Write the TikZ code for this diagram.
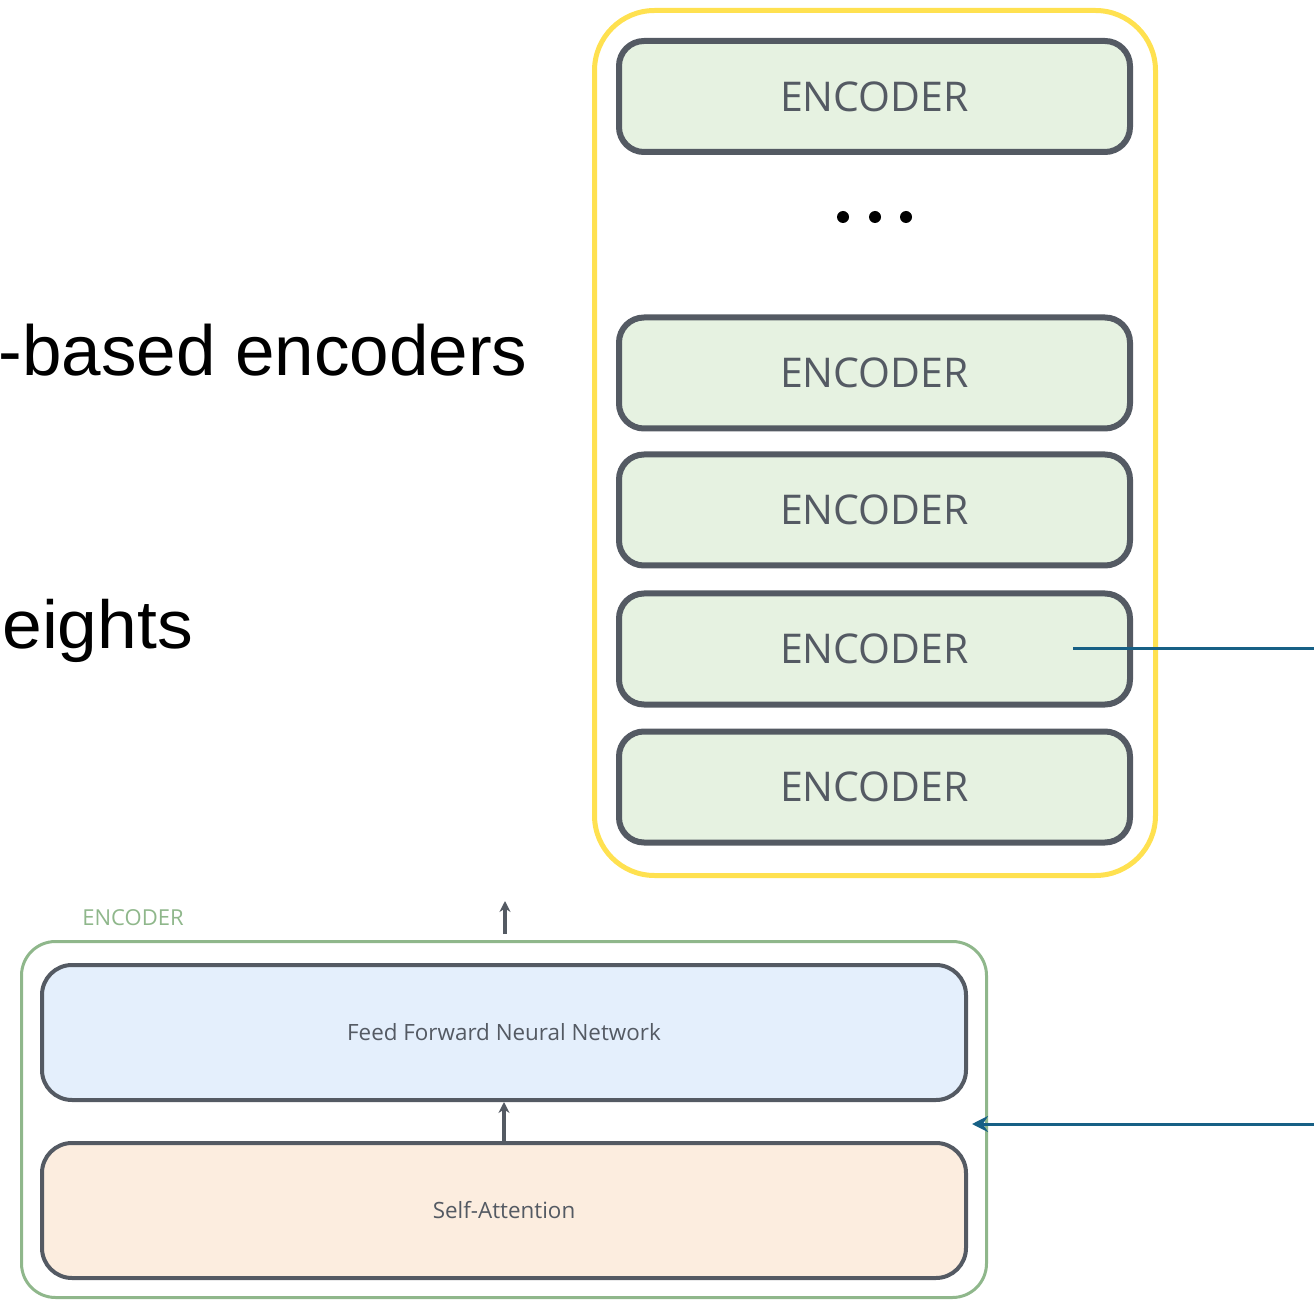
\documentclass[tikz,border=0pt]{standalone}
\usepackage{fontspec}
\setmainfont{Liberation Sans}
\newfontfamily\osans{Open Sans}
\usetikzlibrary{arrows.meta}
\definecolor{yel}{HTML}{FFE150}
\definecolor{dgray}{HTML}{545A63}
\definecolor{encfill}{HTML}{E6F2E1}
\definecolor{fffill}{HTML}{E4EFFC}
\definecolor{safill}{HTML}{FCEDDF}
\definecolor{grn}{HTML}{8FB78B}
\definecolor{blu}{HTML}{176085}
\tikzset{
  encbox/.style={draw=dgray, line width=3pt, fill=encfill, rounded corners=12.5pt,
    minimum width=255.5pt, minimum height=55.5pt, inner sep=0pt,
    text=dgray, font=\osans\fontsize{20.5}{24}\selectfont},
  layerbox/.style={draw=dgray, line width=2pt, rounded corners=15pt,
    minimum width=462pt, minimum height=67.5pt, inner sep=0pt,
    text=dgray, font=\osans\fontsize{11.2}{13}\selectfont},
  grayarrow/.style={draw=dgray, line width=1.75pt, -{Stealth[length=5.5pt,width=5.5pt]}},
  bluearrow/.style={draw=blu, line width=1.5pt},
  bigtext/.style={inner sep=0pt, font=\fontsize{35.5}{40}\selectfont},
}
\begin{document}
\begin{tikzpicture}[x=0.5pt,y=-0.5pt]
\useasboundingbox (0,0) rectangle (1314,1300);
\clip (0,0) rectangle (1314,1300);
% left texts
\node[bigtext, anchor=base east] (t1) at (528,376) {-based encoders};
\node[bigtext, anchor=base west, font=\fontsize{34}{40}\selectfont] (t2) at (2,648) {\scalebox{1.05}[1]{eights}};
% yellow stack container
\node[draw=yel, line width=2.5pt, rounded corners=30pt, minimum width=280.5pt,
  minimum height=432.5pt, inner sep=0pt] (stack) at (875,443) {};
\node[encbox] (e1) at (874.5,96.5) {ENCODER};
\node[encbox] (e2) at (874.5,373) {ENCODER};
\node[encbox] (e3) at (874.5,510) {ENCODER};
\node[encbox] (e4) at (874.5,649) {ENCODER};
\node[encbox] (e5) at (874.5,787) {ENCODER};
\fill (843,217) circle (6) (875,217) circle (6) (906,217) circle (6);
% blue line from encoder
\coordinate (bl1) at (1073,649);
\coordinate (br1) at (1316,649);
\draw[bluearrow] (bl1) -- (br1);
% encoder detail
\node[draw=grn, line width=1.5pt, rounded corners=17pt, minimum width=482.5pt,
  minimum height=178pt, inner sep=0pt] (enc) at (504,1119.5) {};
\node[text=grn, font=\osans\fontsize{11}{12}\selectfont, anchor=base west, inner sep=0pt] (enclabel) at (82,925) {ENCODER};
\node[layerbox, fill=fffill] (ff) at (504,1032.5) {Feed Forward Neural Network};
\node[layerbox, fill=safill] (sa) at (504,1210.5) {Self-Attention};
\coordinate (outtop) at (505,901);
\coordinate (outbot) at (505,934);
\draw[grayarrow] (outbot) -- (outtop);
\draw[grayarrow] (sa.north) -- (ff.south);
\coordinate (br2) at (1316,1124);
\coordinate (bl2) at (972,1124);
\draw[bluearrow, -{Stealth[length=8pt,width=8pt]}] (br2) -- (bl2);
\end{tikzpicture}
\end{document}
